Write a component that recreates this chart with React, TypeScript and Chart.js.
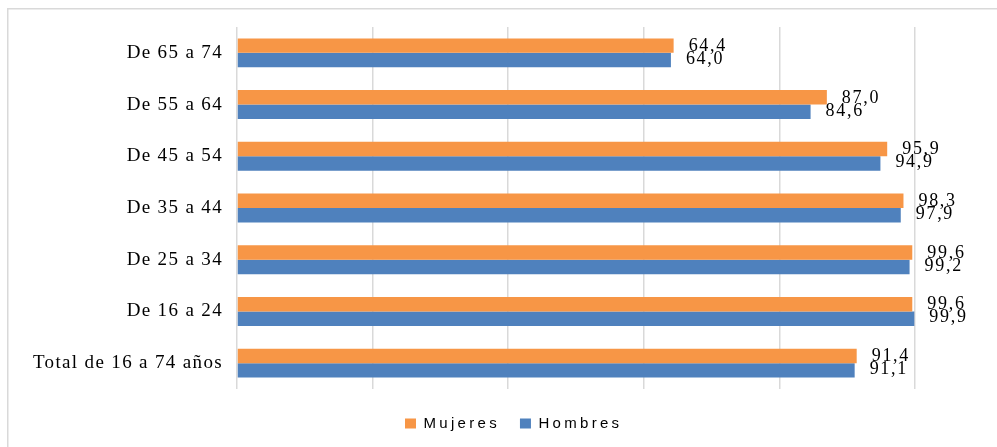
import React, { useEffect, useRef } from "react";
import { Chart, registerables } from "chart.js";

Chart.register(...registerables);

const categories = [
  "De 65 a 74",
  "De 55 a 64",
  "De 45 a 54",
  "De 35 a 44",
  "De 25 a 34",
  "De 16 a 24",
  "Total de 16 a 74 años",
];
const seriesNames = ["Mujeres", "Hombres"];
const mujeres = [64.4, 87.0, 95.9, 98.3, 99.6, 99.6, 91.4];
const hombres = [64.0, 84.6, 94.9, 97.9, 99.2, 99.9, 91.1];
const axisMin = 0;
const axisMax = 100;
const axisStep = 20;

const ORANGE = "#F79646";
const BLUE = "#4F81BD";
const SERIF = "'Liberation Serif', 'Times New Roman', serif";
const SANS = "'Liberation Sans', Arial, sans-serif";
const LEGEND_START_X = 405;
const LEGEND_SPACING = "3.3px";

const fmt = (v: number) => v.toFixed(1).replace(".", ",");

const framePlugin = {
  id: "frame",
  afterInit(chart: any) {
    const legend = chart.legend;
    if (legend && !legend.__patched) {
      const origFit = legend.fit.bind(legend);
      const origDraw = legend.draw.bind(legend);
      legend.fit = function () {
        const ctx = chart.ctx;
        ctx.save();
        ctx.letterSpacing = LEGEND_SPACING;
        origFit();
        ctx.restore();
      };
      legend.draw = function () {
        const ctx = chart.ctx;
        const pad = legend.options.labels.padding;
        const lw = (legend.lineWidths && legend.lineWidths[0]) || 0;
        const cursorX = (legend.left + pad + legend.right - lw) / 2;
        ctx.save();
        ctx.letterSpacing = LEGEND_SPACING;
        ctx.translate(LEGEND_START_X - cursorX, 0);
        origDraw();
        ctx.restore();
      };
      legend.__patched = true;
    }
  },
  beforeDraw(chart: any) {
    const ctx = chart.ctx;
    ctx.save();
    ctx.strokeStyle = "#d9d9d9";
    ctx.lineWidth = 1.5;
    ctx.beginPath();
    ctx.moveTo(7.75, 447);
    ctx.lineTo(7.75, 8.75);
    ctx.lineTo(997, 8.75);
    ctx.stroke();
    ctx.restore();
    ctx.letterSpacing = "1.35px";
  },
  afterDatasetsDraw(chart: any) {
    const ctx = chart.ctx;
    ctx.save();
    ctx.letterSpacing = "1.7px";
    ctx.font = `18px ${SERIF}`;
    ctx.fillStyle = "#000";
    ctx.textAlign = "left";
    ctx.textBaseline = "middle";
    chart.data.datasets.forEach((ds: any, i: number) => {
      const meta = chart.getDatasetMeta(i);
      meta.data.forEach((bar: any, j: number) => {
        const { x, y } = bar.getProps(["x", "y"], true);
        ctx.fillText(fmt(ds.data[j]), x + 15, y + (i === 0 ? 0.5 : -1));
      });
    });
    ctx.restore();
  },
  afterDraw(chart: any) {
    chart.ctx.letterSpacing = "0px";
  },
};

export default function App() {
  const ref = useRef<HTMLCanvasElement | null>(null);

  useEffect(() => {
    if (!ref.current) return;
    const chart = new Chart(ref.current, {
      type: "bar",
      data: {
        labels: categories,
        datasets: [
          {
            label: seriesNames[0],
            data: mujeres,
            backgroundColor: ORANGE,
            borderWidth: 0,
            categoryPercentage: 0.56,
            barPercentage: 1,
          },
          {
            label: seriesNames[1],
            data: hombres,
            backgroundColor: BLUE,
            borderWidth: 0,
            categoryPercentage: 0.56,
            barPercentage: 1,
          },
        ],
      },
      options: {
        indexAxis: "y",
        animation: false,
        responsive: false,
        devicePixelRatio: 1,
        layout: { padding: { top: 27, left: 12, right: 82, bottom: 6 } },
        scales: {
          x: {
            min: axisMin,
            max: axisMax,
            ticks: { display: false, stepSize: axisStep },
            grid: { color: "#d9d9d9", lineWidth: 1.5, drawTicks: false },
            border: { display: false },
            afterFit(scale: any) {
              scale.height = 7;
            },
          },
          y: {
            ticks: {
              color: "#000",
              padding: 14,
              font: { family: SERIF, size: 19 },
            },
            grid: { display: false, drawTicks: false },
            border: { display: false },
            afterFit(scale: any) {
              scale.width = 225;
            },
          },
        },
        plugins: {
          legend: {
            position: "bottom",
            labels: {
              boxWidth: 11,
              boxHeight: 10,
              padding: 20,
              color: "#000",
              font: { family: SANS, size: 15 },
            },
          },
          tooltip: { enabled: false },
        },
      },
      plugins: [framePlugin],
    } as any);
    return () => chart.destroy();
  }, []);

  return (
    <canvas
      ref={ref}
      width={997}
      height={447}
      style={{ position: "fixed", left: 0, top: 0, display: "block" }}
    />
  );
}
